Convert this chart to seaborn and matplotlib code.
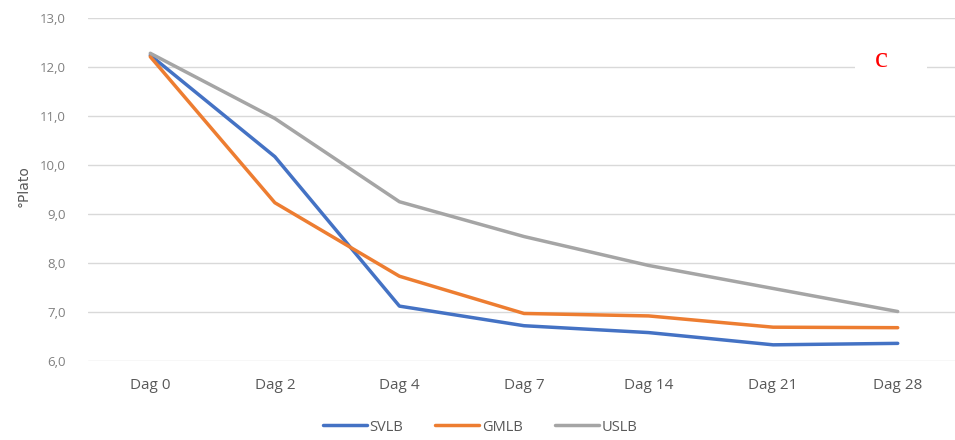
import matplotlib
matplotlib.use("Agg")
import matplotlib.pyplot as plt
import seaborn as sns
import pandas as pd

days = ["Dag 0", "Dag 2", "Dag 4", "Dag 7", "Dag 14", "Dag 21", "Dag 28"]
svlb = [12.24, 10.17, 7.12, 6.72, 6.58, 6.33, 6.36]
gmlb = [12.21, 9.23, 7.73, 6.97, 6.92, 6.69, 6.68]
uslb = [12.28, 10.95, 9.25, 8.54, 7.95, 7.48, 7.01]
series_names = ["SVLB", "GMLB", "USLB"]
y_ticks = [6.0, 7.0, 8.0, 9.0, 10.0, 11.0, 12.0, 13.0]

colors = {"SVLB": "#4472C4", "GMLB": "#ED7D31", "USLB": "#A5A5A5"}

frames = []
for name, vals in zip(series_names, [svlb, gmlb, uslb]):
    frames.append(pd.DataFrame({"Dag": days, "Plato": vals, "Serie": name}))
df = pd.concat(frames, ignore_index=True)

sns.set_theme(style="white")
plt.rcParams["font.family"] = ["Open Sans", "DejaVu Sans"]

fig = plt.figure(figsize=(9.55, 4.4), dpi=100)
ax = fig.add_axes([88 / 955, 1 - 361 / 440, 872 / 955, (361 - 18) / 440])

sns.lineplot(data=df, x="Dag", y="Plato", hue="Serie", palette=colors,
             sort=False, linewidth=2.5, ax=ax, legend=True)

ax.set_xlim(-0.5, len(days) - 0.5)
ax.set_ylim(6.0, 13.0)
ax.set_yticks(y_ticks)
ax.set_yticklabels([f"{v:.1f}".replace(".", ",") for v in y_ticks])
ax.yaxis.grid(True, color="#d9d9d9", linewidth=1.0)
ax.set_axisbelow(True)
for s in ax.spines.values():
    s.set_visible(False)
ax.tick_params(axis="y", length=0, pad=16, labelsize=9.5, labelcolor="#808080")
ax.tick_params(axis="x", length=0, pad=12, labelsize=11, labelcolor="#595959")
ax.set_xlabel("")
ax.set_ylabel("°Plato", fontsize=10, color="#595959", family="DejaVu Sans")
ax.yaxis.set_label_coords(-0.066, 0.51)

handles, labels = ax.get_legend_handles_labels()
ax.legend(handles, labels, loc="center", bbox_to_anchor=(480 / 955, 1 - 427 / 440),
          bbox_transform=fig.transFigure, ncol=3, frameon=False, fontsize=10.5,
          handlelength=3.0, handletextpad=0.2, columnspacing=2.2,
          labelcolor="#595959")

# white patch behind the panel letter, interrupting the gridline
fig.patches.append(plt.Rectangle((855 / 955, 1 - 76 / 440), 72 / 955, 34 / 440,
                                 transform=fig.transFigure, facecolor="white",
                                 edgecolor="none", zorder=5))
fig.text(881 / 955, 1 - 60 / 440, "c", color="red", fontsize=21,
         family="Liberation Serif", ha="center", va="center", zorder=6)

fig.savefig("out.png", dpi=100)
